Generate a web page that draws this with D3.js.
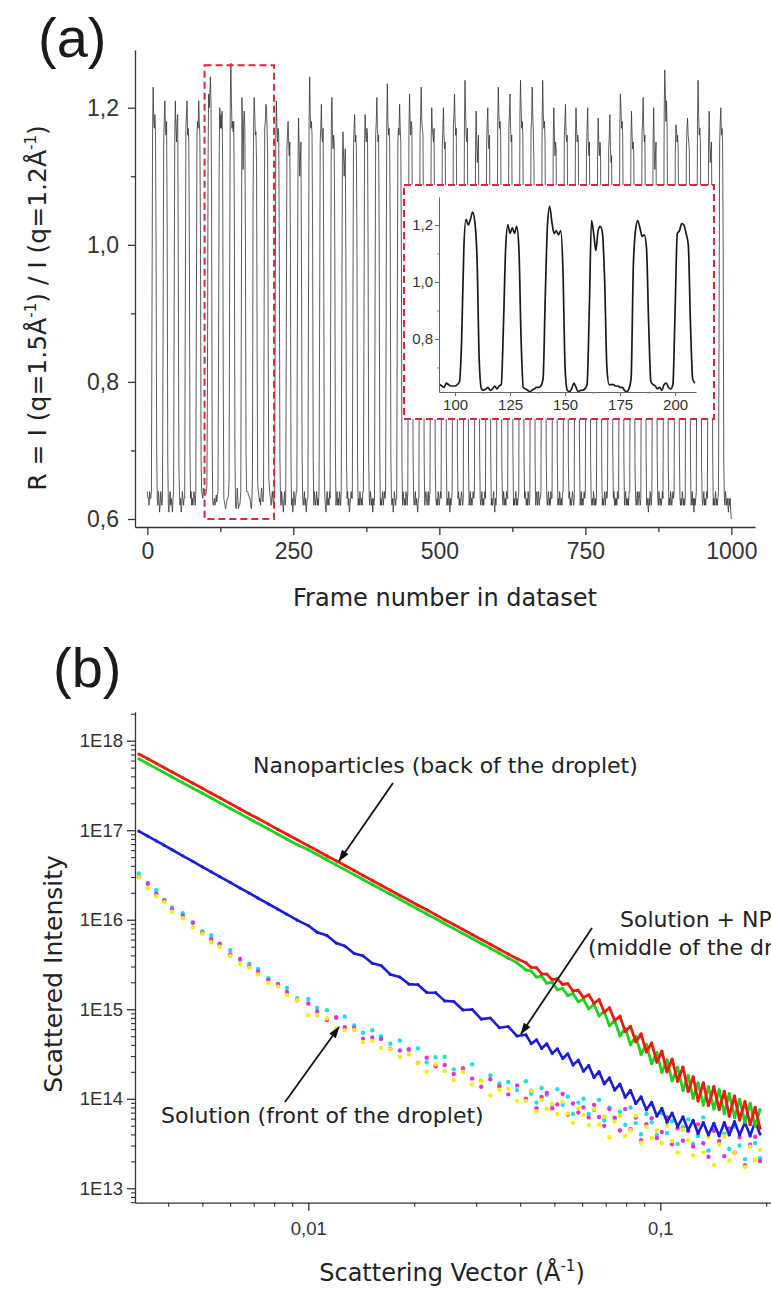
<!DOCTYPE html>
<html><head><meta charset="utf-8">
<script src="https://cdn.jsdelivr.net/npm/d3@7"></script>
<style>body{margin:0;background:#fff}svg{display:block}</style>
</head><body><svg id="c" width="771" height="1291"></svg>
<script>
// ---------- panel (a): ratio R per frame (frame = index) ----------
const ratio = [
0.64,0.63,0.63,0.62,0.64,0.63,0.63,
0.64,0.90,1.17,1.23,1.18,1.17,1.19,1.16,1.00,0.70,0.63,0.62,0.64,0.63,0.61,0.62,0.64,0.63,0.62,
0.63,0.88,1.15,1.18,1.21,1.17,1.16,1.18,1.02,0.69,0.62,0.61,0.63,0.64,0.62,0.63,0.62,0.61,0.63,
0.64,0.92,1.16,1.21,1.17,1.15,1.18,1.19,0.98,0.68,0.64,0.62,0.63,0.61,0.62,0.64,0.63,0.62,0.63,
0.63,0.90,1.17,1.19,1.21,1.16,1.17,1.15,1.00,0.70,0.63,0.64,0.62,0.63,0.62,0.63,0.64,0.63,0.62,
0.64,0.91,1.16,1.18,1.17,1.21,1.18,1.16,1.01,0.69,0.64,0.635,0.63,0.645,0.64,0.635,0.635,0.635,0.64,
0.65,0.80,1.12,1.22,1.20,1.22,1.245,1.21,1.08,0.72,0.625,0.62,0.625,0.63,0.62,0.625,0.635,0.625,0.635,
0.64,0.85,1.12,1.20,1.17,1.19,1.17,1.195,1.12,0.80,0.63,0.625,0.62,0.615,0.62,0.625,0.63,0.63,0.635,
0.66,0.95,1.20,1.265,1.21,1.17,1.18,1.165,1.18,1.05,0.70,0.62,0.615,0.625,0.645,0.63,0.615,0.62,0.62,0.625,
0.64,0.90,1.215,1.17,1.11,1.18,1.195,1.17,1.00,0.70,0.64,0.64,0.64,0.635,0.635,0.63,0.63,0.62,0.615,0.625,
0.66,1.05,1.18,1.215,1.19,1.16,1.165,1.12,0.85,0.65,0.64,0.635,0.625,0.63,0.62,0.64,0.645,0.63,0.625,
0.64,0.90,1.17,1.18,1.205,1.20,1.17,1.13,0.85,0.66,0.645,0.635,0.63,0.62,0.63,0.64,0.63,0.62,0.63,
0.64,0.92,1.16,1.21,1.17,1.15,1.17,1.16,0.99,0.69,0.63,0.62,0.64,0.63,0.62,0.61,0.63,0.64,0.62,
0.63,0.88,1.14,1.16,1.18,1.15,1.13,1.15,1.00,0.68,0.62,0.63,0.61,0.62,0.64,0.63,0.62,0.63,0.64,
0.64,0.90,1.12,1.185,1.14,1.10,1.12,1.15,0.98,0.70,0.63,0.62,0.63,0.64,0.62,0.63,0.61,0.62,0.63,
0.63,0.93,1.18,1.245,1.19,1.17,1.18,1.16,1.02,0.69,0.62,0.64,0.63,0.62,0.63,0.64,0.62,0.63,0.62,
0.64,0.89,1.15,1.17,1.205,1.16,1.15,1.17,0.99,0.68,0.63,0.62,0.61,0.63,0.64,0.62,0.63,0.62,0.64,
0.63,0.91,1.17,1.215,1.16,1.14,1.16,1.15,1.00,0.70,0.62,0.63,0.64,0.62,0.63,0.62,0.64,0.63,0.62,
0.64,0.88,1.12,1.165,1.13,1.10,1.12,1.14,0.97,0.69,0.63,0.64,0.62,0.63,0.61,0.62,0.63,0.64,0.63,
0.63,0.90,1.14,1.17,1.19,1.15,1.16,1.14,0.99,0.68,0.62,0.63,0.62,0.64,0.63,0.62,0.63,0.62,0.64,
0.64,0.89,1.15,1.19,1.16,1.15,1.17,1.16,1.00,0.69,0.63,0.62,0.64,0.63,0.62,0.63,0.61,0.63,0.62,
0.63,0.92,1.16,1.18,1.215,1.17,1.15,1.16,1.01,0.70,0.62,0.63,0.62,0.63,0.64,0.62,0.63,0.64,0.63,
0.64,0.93,1.18,1.235,1.18,1.16,1.17,1.15,1.00,0.69,0.63,0.62,0.63,0.61,0.62,0.64,0.63,0.62,0.63,
0.63,0.90,1.15,1.17,1.16,1.205,1.17,1.15,0.99,0.68,0.62,0.64,0.63,0.62,0.63,0.62,0.64,0.63,0.62,
0.64,0.91,1.17,1.22,1.18,1.16,1.18,1.17,1.01,0.70,0.63,0.62,0.63,0.64,0.62,0.63,0.62,0.61,0.63,
0.63,0.92,1.16,1.19,1.23,1.18,1.17,1.16,1.00,0.69,0.62,0.63,0.64,0.63,0.62,0.63,0.64,0.62,0.63,
0.64,0.90,1.15,1.20,1.17,1.16,1.15,1.17,0.99,0.68,0.63,0.62,0.63,0.62,0.64,0.63,0.62,0.63,0.64,
0.63,0.89,1.14,1.17,1.20,1.16,1.14,1.15,1.00,0.70,0.62,0.63,0.62,0.64,0.63,0.61,0.63,0.62,0.63,
0.64,0.92,1.17,1.19,1.22,1.18,1.16,1.17,1.01,0.69,0.63,0.64,0.62,0.63,0.62,0.63,0.64,0.63,0.62,
0.63,0.93,1.18,1.24,1.19,1.16,1.15,1.17,1.00,0.68,0.62,0.63,0.64,0.62,0.63,0.62,0.63,0.64,0.63,
0.64,0.90,1.14,1.195,1.15,1.12,1.14,1.16,0.98,0.70,0.63,0.62,0.63,0.64,0.62,0.63,0.62,0.63,0.64,
0.63,0.91,1.15,1.18,1.20,1.15,1.14,1.16,0.99,0.69,0.62,0.63,0.62,0.63,0.64,0.62,0.61,0.63,0.62,
0.64,0.93,1.18,1.23,1.19,1.17,1.18,1.16,1.01,0.68,0.63,0.62,0.64,0.63,0.62,0.63,0.62,0.64,0.63,
0.63,0.92,1.17,1.19,1.22,1.17,1.15,1.16,1.00,0.70,0.62,0.63,0.62,0.63,0.64,0.62,0.63,0.62,0.63,
0.64,0.93,1.19,1.24,1.20,1.17,1.18,1.16,1.01,0.69,0.63,0.64,0.63,0.62,0.63,0.62,0.64,0.63,0.62,
0.63,0.92,1.17,1.18,1.23,1.19,1.16,1.12,0.99,0.68,0.62,0.63,0.64,0.62,0.63,0.64,0.62,0.63,0.63,
0.64,0.93,1.18,1.24,1.19,1.17,1.18,1.15,1.00,0.70,0.63,0.62,0.63,0.64,0.62,0.63,0.62,0.64,0.63,
0.63,0.90,1.15,1.20,1.16,1.13,1.15,1.14,0.98,0.69,0.62,0.63,0.62,0.64,0.63,0.62,0.63,0.62,0.64,
0.64,0.91,1.16,1.18,1.205,1.16,1.15,1.16,0.99,0.68,0.63,0.64,0.62,0.63,0.62,0.63,0.64,0.63,0.62,
0.63,0.90,1.15,1.20,1.17,1.15,1.16,1.15,1.00,0.70,0.62,0.63,0.64,0.62,0.63,0.62,0.63,0.64,0.63,
0.64,0.89,1.14,1.17,1.20,1.15,1.13,1.15,0.99,0.69,0.63,0.62,0.63,0.62,0.64,0.63,0.62,0.63,0.62,
0.63,0.88,1.13,1.185,1.15,1.13,1.15,1.14,0.98,0.68,0.62,0.63,0.62,0.63,0.64,0.62,0.63,0.64,0.63,
0.64,0.89,1.14,1.16,1.19,1.14,1.12,1.13,0.97,0.70,0.63,0.64,0.62,0.63,0.62,0.63,0.62,0.64,0.63,
0.63,0.92,1.17,1.22,1.20,1.17,1.18,1.16,1.00,0.69,0.62,0.63,0.64,0.62,0.63,0.62,0.63,0.62,0.64,
0.64,0.90,1.15,1.195,1.16,1.14,1.15,1.13,0.99,0.68,0.63,0.62,0.63,0.64,0.62,0.63,0.64,0.63,0.62,
0.63,0.91,1.16,1.18,1.215,1.17,1.15,1.16,1.00,0.70,0.62,0.63,0.62,0.61,0.63,0.62,0.64,0.63,0.62,
0.64,0.90,1.15,1.20,1.14,1.11,1.13,1.15,0.98,0.69,0.63,0.62,0.64,0.63,0.62,0.63,0.62,0.63,0.64,
0.63,0.94,1.19,1.255,1.22,1.18,1.21,1.17,1.02,0.68,0.62,0.63,0.62,0.64,0.63,0.62,0.63,0.64,0.63,
0.64,0.88,1.13,1.175,1.17,1.15,1.16,1.14,0.98,0.70,0.63,0.62,0.63,0.62,0.64,0.63,0.62,0.63,0.62,
0.63,0.89,1.14,1.17,1.185,1.16,1.15,1.14,0.99,0.69,0.62,0.63,0.64,0.62,0.63,0.61,0.63,0.62,0.63,
0.64,0.93,1.18,1.24,1.19,1.16,1.17,1.15,1.00,0.68,0.63,0.62,0.63,0.64,0.62,0.63,0.62,0.63,0.64,
0.63,0.90,1.15,1.195,1.15,1.12,1.14,1.15,0.99,0.70,0.62,0.63,0.62,0.63,0.64,0.62,0.63,0.62,0.63,
0.64,0.90,1.15,1.18,1.20,1.16,1.17,1.15,1.00,0.69,0.63,0.62,0.64,0.63,0.62,0.63,0.62,0.61,0.63,
0.62,0.63,0.61,0.60
];
const frameTicks = [0, 250, 500, 750, 1000];
const frameMinorTicks = [125, 375, 625, 875];
const ratioTicks = [0.6, 0.8, 1.0, 1.2];
const ratioMinorTicks = [0.7, 0.9, 1.1];
const zoomFrames = [98, 217];
const zoomRatio = [0.6, 1.262];
const insetFrames = [93, 209];
const insetFrameTicks = [100, 125, 150, 175, 200];
const insetFrameMinor = [112.5, 137.5, 162.5, 187.5];
const insetRatioTicks = [0.8, 1.0, 1.2];
const insetRatioMinor = [0.7, 0.9, 1.1];

// ---------- panel (b): scattering curves ----------
const q = [0.0033,0.0035,0.0037,0.0039,0.0041,0.0044,0.0047,0.005,0.0053,0.0056,0.006,0.0064,0.0068,0.0072,0.0077,0.0082,0.0087,0.0093,
0.01,0.0106,0.0113,0.012,0.0127,0.0135,0.0143,0.0152,0.0161,0.0171,0.0182,0.0193,0.0205,0.0217,0.023,0.0244,0.0259,0.0275,0.0292,0.031,0.0329,0.0349,0.037,0.0392,
0.0415,0.043,0.0445,0.046,0.0476,0.0493,0.051,0.0528,0.0546,0.0565,0.0585,0.0605,0.0626,0.0648,0.067,0.0693,0.0717,0.0742,0.0768,0.0795,0.0823,0.0852,0.0882,0.0913,0.0945,0.0978,0.101,0.1045,0.108,0.112,0.116,0.12,0.124,0.128,0.1325,0.137,0.142,0.147,0.152,0.157,0.1625,0.168,0.174,0.18,0.186,0.192];
const nanoRed = [7.1e17,6.28e17,5.57e17,4.99e17,4.48e17,3.85e17,3.35e17,2.94e17,2.59e17,2.31e17,1.99e17,1.73e17,1.52e17,1.35e17,1.17e17,1.02e17,9.02e16,7.83e16,
6.71e16,5.93e16,5.16e16,4.55e16,4.03e16,3.54e16,3.13e16,2.75e16,2.43e16,2.14e16,1.87e16,1.65e16,1.45e16,1.29e16,1.14e16,1.00e16,8.83e15,7.78e15,6.84e15,6.03e15,5.31e15,4.68e15,4.13e15,3.66e15,
3.31e15,2.93e15,2.92e15,2.48e15,2.47e15,2.14e15,2.18e15,1.89e15,1.93e15,1.60e15,1.63e15,1.35e15,1.45e15,1.17e15,1.28e15,9.27e14,1.04e15,7.48e14,8.36e14,5.64e14,6.44e14,4.34e14,5.31e14,3.33e14,4.19e14,2.57e14,3.40e14,2.00e14,2.77e14,1.57e14,2.26e14,1.21e14,1.76e14,9.48e13,1.51e14,8.39e13,1.37e14,7.57e13,1.21e14,6.41e13,1.07e14,5.81e13,9.27e13,5.13e13,8.04e13,4.68e13];
const nanoGreen = [6.27e17,5.53e17,4.91e17,4.40e17,3.94e17,3.40e17,2.95e17,2.59e17,2.29e17,2.03e17,1.75e17,1.53e17,1.34e17,1.19e17,1.03e17,9.02e16,7.94e16,6.90e16,
6.05e16,5.35e16,4.66e16,4.10e16,3.63e16,3.19e16,2.82e16,2.48e16,2.19e16,1.93e16,1.69e16,1.49e16,1.31e16,1.16e16,1.03e16,9.04e15,7.96e15,7.01e15,6.17e15,5.43e15,4.79e15,4.22e15,3.72e15,3.30e15,
2.75e15,2.67e15,2.29e15,2.34e15,1.96e15,2.00e15,1.66e15,1.71e15,1.42e15,1.50e15,1.21e15,1.29e15,1.01e15,1.13e15,8.45e14,9.48e14,6.55e14,7.48e14,5.04e14,6.11e14,4.02e14,4.98e14,3.13e14,4.06e14,2.47e14,3.27e14,1.96e14,2.73e14,1.59e14,2.25e14,1.24e14,1.82e14,1.01e14,1.50e14,8.51e13,1.36e14,7.69e13,1.26e14,6.81e13,1.14e14,6.17e13,9.86e13,5.46e13,8.91e13,4.95e13,7.59e13];
const midBlue = [9.79e16,8.59e16,7.60e16,6.76e16,6.05e16,5.18e16,4.48e16,3.90e16,3.43e16,3.03e16,2.61e16,2.26e16,1.98e16,1.74e16,1.50e16,1.31e16,1.15e16,9.89e15,
8.61e15,7.23e15,6.65e15,5.50e15,5.08e15,4.19e15,3.95e15,3.26e15,3.08e15,2.45e15,2.29e15,1.91e15,1.88e15,1.54e15,1.53e15,1.24e15,1.22e15,9.82e14,9.95e14,7.76e14,7.98e14,6.22e14,6.41e14,5.02e14,
5.19e14,4.13e14,4.55e14,3.65e14,4.11e14,3.21e14,3.61e14,2.82e14,3.18e14,2.38e14,2.70e14,2.03e14,2.36e14,1.73e14,2.01e14,1.47e14,1.71e14,1.25e14,1.46e14,1.04e14,1.24e14,8.85e13,1.05e14,7.53e13,9.14e13,6.40e13,7.82e13,5.48e13,6.92e13,4.89e13,6.28e13,4.45e13,5.74e13,4.08e13,5.43e13,3.94e13,5.31e13,3.85e13,5.43e13,3.94e13,5.56e13,3.94e13,5.43e13,3.85e13,5.56e13,4.03e13];
const solCyan = [3.29e16,2.51e16,2.14e16,1.66e16,1.37e16,1.18e16,9.40e15,7.46e15,6.70e15,5.31e15,4.56e15,3.58e15,3.22e15,2.82e15,2.22e15,1.92e15,1.73e15,1.33e15,
1.30e15,1.04e15,9.77e14,7.96e14,8.30e14,6.59e14,5.46e14,5.82e14,4.99e14,4.12e14,4.47e14,3.51e14,3.66e14,2.55e14,2.91e14,2.94e14,2.13e14,2.14e14,2.41e14,1.59e14,1.82e14,1.48e14,1.54e14,1.25e14,
1.57e14,1.14e14,9.06e13,1.32e14,1.11e14,8.55e13,1.28e14,8.59e13,1.06e14,6.76e13,9.06e13,1.00e14,6.76e13,7.48e13,9.77e13,5.74e13,8.00e13,5.96e13,7.16e13,5.14e13,8.00e13,5.35e13,4.01e13,6.75e13,5.45e13,3.94e13,6.90e13,4.15e13,5.61e13,3.13e13,4.81e13,5.87e13,3.14e13,3.84e13,6.19e13,2.64e13,4.48e13,3.16e13,4.06e13,2.75e13,4.88e13,3.01e13,2.12e13,4.13e13,3.21e13,2.17e13];
const solMagenta = [3.00e16,2.56e16,1.94e16,1.64e16,1.31e16,1.11e16,9.23e15,7.16e15,6.11e15,5.41e15,4.10e15,3.65e15,3.01e15,2.65e15,2.13e15,1.91e15,1.56e15,1.26e15,
1.16e15,9.44e14,7.59e14,8.15e14,6.30e14,6.22e14,4.70e14,4.84e14,4.66e14,3.63e14,3.47e14,3.59e14,2.51e14,2.87e14,2.31e14,2.38e14,1.89e14,2.20e14,1.68e14,1.36e14,1.65e14,1.38e14,1.12e14,1.41e14,
1.00e14,1.23e14,7.85e13,1.05e14,1.16e14,7.83e13,8.65e13,1.13e14,6.61e13,8.87e13,7.03e13,8.02e13,6.19e13,8.55e13,6.25e13,4.98e13,7.67e13,6.15e13,4.42e13,7.67e13,4.58e13,6.17e13,3.44e13,5.19e13,6.05e13,3.64e13,4.26e13,6.19e13,3.10e13,4.67e13,3.40e13,4.36e13,2.93e13,5.18e13,3.18e13,2.25e13,4.38e13,3.39e13,2.29e13,4.67e13,2.50e13,3.70e13,1.81e13,3.06e13,3.77e13,2.02e13];
const solYellow = [2.99e16,2.23e16,1.83e16,1.57e16,1.23e16,1.04e16,8.22e15,6.97e15,5.60e15,5.00e15,3.94e15,3.21e15,2.92e15,2.45e15,1.97e15,1.79e15,1.44e15,1.26e15,
8.61e14,8.51e14,7.94e14,6.11e14,5.81e14,5.87e14,4.29e14,4.42e14,3.70e14,3.59e14,2.95e14,3.13e14,2.50e14,2.01e14,2.43e14,2.04e14,1.62e14,2.00e14,1.45e14,1.57e14,1.09e14,1.26e14,1.29e14,9.51e13,
9.48e13,1.23e14,7.23e13,9.70e13,7.69e13,8.75e13,6.75e13,9.29e13,6.79e13,5.40e13,7.85e13,6.61e13,5.11e13,7.66e13,5.15e13,6.38e13,3.71e13,5.56e13,6.44e13,3.85e13,4.46e13,6.46e13,3.23e13,4.86e13,3.65e13,4.42e13,3.20e13,5.01e13,3.37e13,2.52e13,4.49e13,3.46e13,2.33e13,4.72e13,2.52e13,3.73e13,1.82e13,3.09e13,3.79e13,2.04e13,2.50e13,4.06e13,1.73e13,2.92e13,2.07e13,2.67e13];
const qTicks = [0.01, 0.1];
const qMinorTicks = [0.004,0.005,0.006,0.007,0.008,0.009,0.02,0.03,0.04,0.05,0.06,0.07,0.08,0.09,0.2];
const intensityTicks = [1e13, 1e14, 1e15, 1e16, 1e17, 1e18];
const intensityMinorTicks = [];
[12,13,14,15,16,17,18].forEach(e => [2,3,4,5,6,7,8,9].forEach(m => intensityMinorTicks.push(m * Math.pow(10, e))));

// ---------- drawing ----------
const svg = d3.select('#c');
svg.append('rect').attr('width', 771).attr('height', 1291).attr('fill', '#fff');
const TICKFONT = 'Liberation Sans, Arial, sans-serif';
const LABFONT = 'DejaVu Sans, Verdana, sans-serif';
const comma = d => d3.format('.1f')(d).replace('.', ',');

function styleAxis(g, size, color, width) {
  g.attr('font-family', TICKFONT).attr('font-size', size);
  g.selectAll('path.domain').attr('stroke', color).attr('stroke-width', width);
  g.selectAll('.tick line').attr('stroke', color).attr('stroke-width', width);
  g.selectAll('.tick text').attr('fill', '#333');
}
function minor(g, axis) { g.call(axis); g.select('path.domain').remove(); g.selectAll('.tick text').remove(); }

// Panel (a)
const xA = d3.scaleLinear().domain([-21.1, 1040.5]).range([135, 755]);
const yA = d3.scaleLinear().domain([0.5883, 1.2842]).range([527, 50]);

svg.append('path').datum(ratio)
  .attr('d', d3.line().x((d, i) => xA(i)).y(d => yA(d)))
  .attr('fill', 'none').attr('stroke', '#333').attr('stroke-width', 0.8);

svg.append('rect')
  .attr('x', xA(zoomFrames[0])).attr('y', yA(zoomRatio[1]))
  .attr('width', xA(zoomFrames[1]) - xA(zoomFrames[0]))
  .attr('height', yA(zoomRatio[0]) - yA(zoomRatio[1]))
  .attr('fill', 'none').attr('stroke', '#d8283c').attr('stroke-width', 2).attr('stroke-dasharray', '7,4');

const gAy = svg.append('g').attr('transform', 'translate(135,0)')
  .call(d3.axisLeft(yA).tickValues(ratioTicks).tickSize(7).tickSizeOuter(0).tickPadding(9).tickFormat(comma));
styleAxis(gAy, 23, '#333', 1.3);
const gAy2 = svg.append('g').attr('transform', 'translate(135,0)');
minor(gAy2, d3.axisLeft(yA).tickValues(ratioMinorTicks).tickSize(4));
styleAxis(gAy2, 23, '#333', 1.3);
const gAx = svg.append('g').attr('transform', 'translate(0,527)')
  .call(d3.axisBottom(xA).tickValues(frameTicks).tickSize(8).tickSizeOuter(0).tickPadding(8).tickFormat(d3.format('d')));
styleAxis(gAx, 23, '#333', 1.3);
const gAx2 = svg.append('g').attr('transform', 'translate(0,527)');
minor(gAx2, d3.axisBottom(xA).tickValues(frameMinorTicks).tickSize(5));
styleAxis(gAx2, 23, '#333', 1.3);

// inset
svg.append('rect').attr('x', 404).attr('y', 185).attr('width', 310).attr('height', 234)
  .attr('fill', '#fff').attr('stroke', '#d8283c').attr('stroke-width', 2).attr('stroke-dasharray', '7,4');
const xI = d3.scaleLinear().domain([92.7, 209.5]).range([439, 696]);
const yI = d3.scaleLinear().domain([0.614, 1.298]).range([392, 197]);
const insetData = ratio.map((v, i) => [i, v]).filter(d => d[0] >= insetFrames[0] && d[0] <= insetFrames[1]);
svg.append('path').datum(insetData)
  .attr('d', d3.line().curve(d3.curveMonotoneX).x(d => xI(d[0])).y(d => yI(d[1])))
  .attr('fill', 'none').attr('stroke', '#1a1a1a').attr('stroke-width', 1.7);
const gIy = svg.append('g').attr('transform', 'translate(439,0)')
  .call(d3.axisLeft(yI).tickValues(insetRatioTicks).tickSize(4).tickSizeOuter(0).tickPadding(2).tickFormat(comma));
styleAxis(gIy, 15, '#666', 1);
const gIy2 = svg.append('g').attr('transform', 'translate(439,0)');
minor(gIy2, d3.axisLeft(yI).tickValues(insetRatioMinor).tickSize(2));
styleAxis(gIy2, 15, '#888', 1);
const gIx = svg.append('g').attr('transform', 'translate(0,392)')
  .call(d3.axisBottom(xI).tickValues(insetFrameTicks).tickSize(4).tickSizeOuter(0).tickPadding(3).tickFormat(d3.format('d')));
styleAxis(gIx, 15, '#666', 1);
const gIx2 = svg.append('g').attr('transform', 'translate(0,392)');
minor(gIx2, d3.axisBottom(xI).tickValues(insetFrameMinor).tickSize(2));
styleAxis(gIx2, 15, '#888', 1);

// labels (a)
svg.append('text').attr('x', 38).attr('y', 57).attr('font-family', 'Liberation Sans, Arial, sans-serif').attr('font-size', 56).attr('fill', '#1a1a1a').text('(a)');
const ylab = svg.append('text').attr('transform', 'translate(46,308) rotate(-90)').attr('text-anchor', 'middle')
  .attr('font-family', LABFONT).attr('font-size', 25).attr('fill', '#222');
ylab.append('tspan').text('R = I (q=1.5Å');
ylab.append('tspan').attr('dy', -10).attr('font-size', 15).text('-1');
ylab.append('tspan').attr('dy', 10).text(') / I (q=1.2Å');
ylab.append('tspan').attr('dy', -10).attr('font-size', 15).text('-1');
ylab.append('tspan').attr('dy', 10).text(')');
svg.append('text').attr('x', 445).attr('y', 606).attr('text-anchor', 'middle')
  .attr('font-family', LABFONT).attr('font-size', 24).attr('fill', '#222').text('Frame number in dataset');

// Panel (b)
const xB = d3.scaleLog().domain([0.003219, 0.2063]).range([135, 771]);
const yB = d3.scaleLog().domain([Math.pow(10, 12.839), Math.pow(10, 18.324)]).range([1202.7, 711.7]);

const series = [
  {vals: solCyan, color: '#19e0e6', w: 0, r: 2.2},
  {vals: solMagenta, color: '#e632d2', w: 0, r: 2.2},
  {vals: solYellow, color: '#f5ef00', w: 0, r: 2.2},
  {vals: midBlue, color: '#1c1cd6', w: 2.6, r: 1.6},
  {vals: nanoGreen, color: '#1fd11f', w: 2.8, r: 1.6},
  {vals: nanoRed, color: '#ee1c10', w: 2.8, r: 1.6}
];
series.forEach(s => {
  const pts = q.map((qq, i) => [qq, s.vals[i]]).filter(d => d[1] !== undefined);
  if (s.w > 0) {
    svg.append('path').datum(pts)
      .attr('d', d3.line().x(d => xB(d[0])).y(d => yB(d[1])))
      .attr('fill', 'none').attr('stroke', s.color).attr('stroke-width', s.w).attr('stroke-linejoin', 'round');
  }
  svg.append('g').selectAll('circle').data(pts).join('circle')
    .attr('cx', d => xB(d[0])).attr('cy', d => yB(d[1])).attr('r', s.r)
    .attr('fill', s.color);
});

const gBy = svg.append('g').attr('transform', 'translate(135,0)')
  .call(d3.axisLeft(yB).tickValues(intensityTicks).tickSize(8).tickSizeOuter(0).tickPadding(4)
    .tickFormat(d => '1E' + Math.round(Math.log10(d))));
styleAxis(gBy, 18.5, '#333', 1.3);
const gBy2 = svg.append('g').attr('transform', 'translate(135,0)');
minor(gBy2, d3.axisLeft(yB).tickValues(intensityMinorTicks.filter(v => v > yB.domain()[0] && v < yB.domain()[1])).tickSize(4));
styleAxis(gBy2, 18.5, '#333', 1.1);
const gBx = svg.append('g').attr('transform', 'translate(0,1202.7)')
  .call(d3.axisBottom(xB).tickValues(qTicks).tickSize(8).tickSizeOuter(0).tickPadding(11)
    .tickFormat(d => d === 0.01 ? '0,01' : '0,1'));
styleAxis(gBx, 18.5, '#333', 1.3);
const gBx2 = svg.append('g').attr('transform', 'translate(0,1202.7)');
minor(gBx2, d3.axisBottom(xB).tickValues(qMinorTicks).tickSize(4));
styleAxis(gBx2, 18.5, '#333', 1.1);

// annotations
const defs = svg.append('defs');
defs.append('marker').attr('id', 'ah').attr('viewBox', '0 0 12 10').attr('refX', 11).attr('refY', 5)
  .attr('markerWidth', 13).attr('markerHeight', 10).attr('markerUnits', 'userSpaceOnUse').attr('orient', 'auto')
  .append('path').attr('d', 'M0,1 L12,5 L0,9 Z').attr('fill', '#111');
function arrow(x1, y1, x2, y2) {
  svg.append('line').attr('x1', x1).attr('y1', y1).attr('x2', x2).attr('y2', y2)
    .attr('stroke', '#111').attr('stroke-width', 1.8).attr('marker-end', 'url(#ah)');
}
function note(x, y, t) {
  svg.append('text').attr('x', x).attr('y', y).attr('font-family', LABFONT).attr('font-size', 22).attr('fill', '#222').text(t);
}
note(253, 773, 'Nanoparticles (back of the droplet)');
arrow(393, 783, 339, 861);
note(620, 927, 'Solution + NP');
note(588, 955, '(middle of the droplet)');
arrow(592, 928, 521, 1034);
note(161, 1123, 'Solution (front of the droplet)');
arrow(285, 1102, 339, 1027);

svg.append('text').attr('x', 53).attr('y', 687).attr('font-family', 'Liberation Sans, Arial, sans-serif').attr('font-size', 56).attr('fill', '#1a1a1a').text('(b)');
svg.append('text').attr('transform', 'translate(62,974) rotate(-90)').attr('text-anchor', 'middle')
  .attr('font-family', LABFONT).attr('font-size', 25).attr('fill', '#222').text('Scattered Intensity');
const xlab = svg.append('text').attr('x', 452).attr('y', 1281).attr('text-anchor', 'middle')
  .attr('font-family', LABFONT).attr('font-size', 24).attr('fill', '#222');
xlab.append('tspan').text('Scattering Vector (Å');
xlab.append('tspan').attr('dy', -10).attr('font-size', 15).text('-1');
xlab.append('tspan').attr('dy', 10).text(')');
</script></body></html>
